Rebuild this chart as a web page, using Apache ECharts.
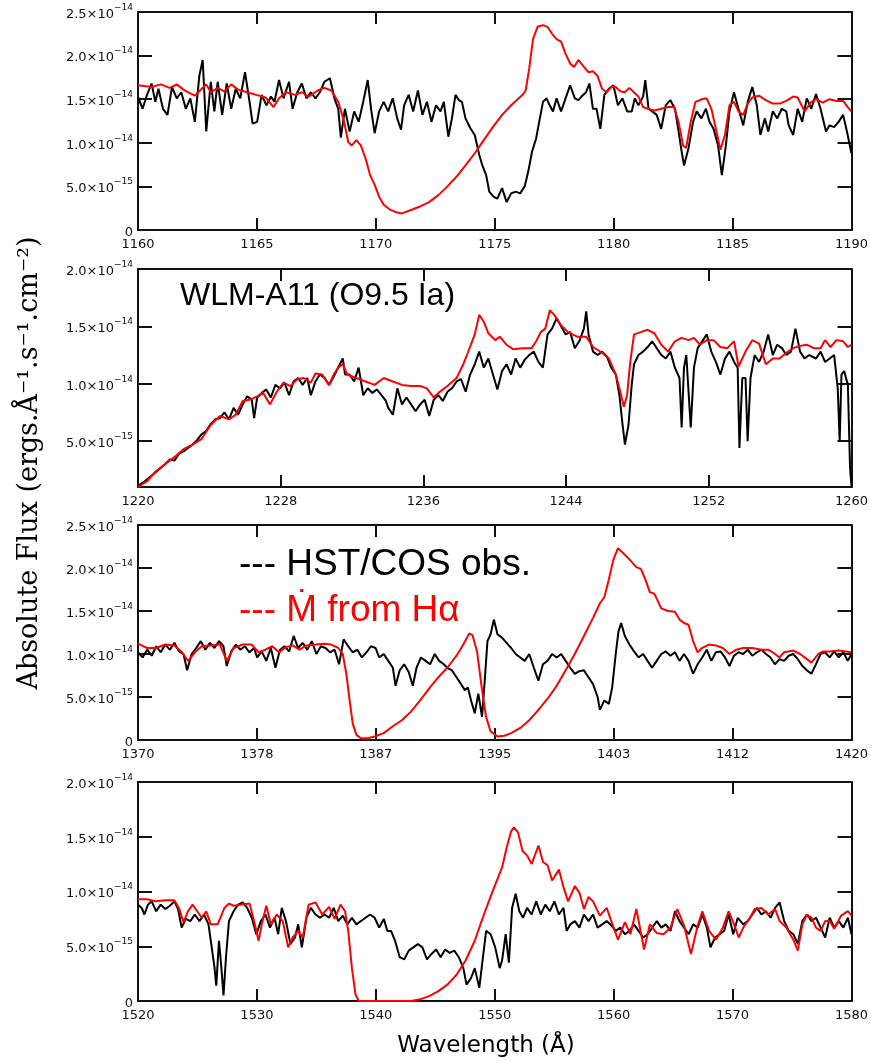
<!DOCTYPE html>
<html>
<head>
<meta charset="utf-8">
<script src="https://cdn.jsdelivr.net/npm/echarts@6/dist/echarts.min.js"></script>
<style>
html,body{margin:0;padding:0;background:#fff;}
#chart{width:871px;height:1061px;}
</style>
</head>
<body>
<div id="chart"></div>
<script>
// Flux values are in units of 1e-14 ergs/s/cm2/A ; wavelengths in Angstrom
const p1Obs = [[1160.00,1.53],[1160.19,1.39],[1160.38,1.55],[1160.57,1.68],[1160.73,1.47],[1160.86,1.62],[1161.05,1.39],[1161.24,1.32],[1161.43,1.64],[1161.63,1.51],[1161.82,1.58],[1162.01,1.39],[1162.20,1.51],[1162.39,1.24],[1162.58,1.77],[1162.72,1.95],[1162.87,1.13],[1163.06,1.70],[1163.21,1.36],[1163.35,1.70],[1163.54,1.32],[1163.73,1.68],[1163.92,1.39],[1164.11,1.62],[1164.30,1.51],[1164.50,1.81],[1164.69,1.47],[1164.82,1.22],[1165.01,1.24],[1165.20,1.55],[1165.40,1.43],[1165.59,1.53],[1165.74,1.47],[1165.93,1.72],[1166.12,1.51],[1166.35,1.70],[1166.50,1.39],[1166.70,1.58],[1166.89,1.68],[1167.08,1.51],[1167.27,1.58],[1167.46,1.51],[1167.65,1.58],[1167.84,1.70],[1168.07,1.74],[1168.26,1.51],[1168.42,1.39],[1168.53,1.06],[1168.70,1.39],[1168.90,1.13],[1169.09,1.36],[1169.28,1.24],[1169.47,1.47],[1169.66,1.72],[1169.80,1.39],[1169.95,1.11],[1170.14,1.36],[1170.33,1.47],[1170.52,1.36],[1170.71,1.51],[1170.90,1.28],[1171.06,1.15],[1171.19,1.43],[1171.38,1.55],[1171.57,1.36],[1171.77,1.60],[1171.96,1.32],[1172.15,1.47],[1172.34,1.24],[1172.53,1.43],[1172.72,1.36],[1172.86,1.47],[1173.05,1.07],[1173.20,1.28],[1173.35,1.55],[1173.49,1.49],[1173.62,1.47],[1173.77,1.28],[1173.97,1.17],[1174.16,1.09],[1174.35,0.86],[1174.48,0.74],[1174.64,0.63],[1174.77,0.44],[1174.96,0.38],[1175.11,0.36],[1175.31,0.48],[1175.50,0.32],[1175.69,0.42],[1175.88,0.44],[1176.07,0.42],[1176.26,0.50],[1176.41,0.67],[1176.57,0.90],[1176.74,1.05],[1176.87,1.24],[1177.03,1.47],[1177.18,1.51],[1177.31,1.43],[1177.45,1.36],[1177.60,1.51],[1177.79,1.36],[1177.98,1.51],[1178.17,1.66],[1178.37,1.51],[1178.52,1.49],[1178.65,1.53],[1178.84,1.58],[1178.98,1.68],[1179.13,1.39],[1179.28,1.39],[1179.44,1.16],[1179.61,1.55],[1179.80,1.62],[1179.99,1.66],[1180.18,1.43],[1180.37,1.51],[1180.57,1.36],[1180.76,1.36],[1180.89,1.51],[1181.04,1.43],[1181.24,1.53],[1181.33,1.72],[1181.47,1.39],[1181.62,1.36],[1181.81,1.32],[1182.00,1.16],[1182.19,1.43],[1182.38,1.49],[1182.58,1.39],[1182.73,1.13],[1182.86,0.90],[1182.96,0.74],[1183.15,0.94],[1183.34,1.24],[1183.49,1.36],[1183.69,1.28],[1183.88,1.39],[1184.03,1.24],[1184.20,1.16],[1184.39,0.97],[1184.55,0.63],[1184.72,0.97],[1184.87,1.36],[1185.06,1.58],[1185.25,1.39],[1185.45,1.20],[1185.64,1.47],[1185.83,1.64],[1186.02,1.43],[1186.17,1.09],[1186.36,1.28],[1186.50,1.13],[1186.69,1.36],[1186.88,1.28],[1187.07,1.39],[1187.26,1.36],[1187.36,1.20],[1187.55,1.09],[1187.74,1.39],[1187.93,1.24],[1188.12,1.51],[1188.31,1.39],[1188.51,1.56],[1188.70,1.39],[1188.93,1.13],[1189.08,1.20],[1189.27,1.18],[1189.46,1.24],[1189.65,1.32],[1189.81,1.13],[1190.00,0.88]];
const p1Mod = [[1160.00,1.66],[1160.57,1.64],[1160.96,1.67],[1161.34,1.63],[1161.63,1.67],[1161.91,1.61],[1162.10,1.58],[1162.39,1.54],[1162.68,1.62],[1162.87,1.67],[1163.06,1.58],[1163.35,1.63],[1163.63,1.59],[1163.92,1.67],[1164.21,1.61],[1164.59,1.58],[1164.97,1.55],[1165.36,1.52],[1165.70,1.41],[1165.93,1.51],[1166.22,1.58],[1166.60,1.55],[1166.89,1.58],[1167.17,1.53],[1167.56,1.60],[1167.84,1.63],[1168.13,1.60],[1168.42,1.47],[1168.65,1.26],[1168.84,1.01],[1168.99,0.97],[1169.18,1.03],[1169.37,0.97],[1169.57,0.82],[1169.76,0.63],[1169.95,0.52],[1170.14,0.38],[1170.33,0.29],[1170.62,0.23],[1170.90,0.20],[1171.10,0.19],[1171.48,0.23],[1171.86,0.27],[1172.24,0.32],[1172.63,0.40],[1173.01,0.50],[1173.39,0.61],[1173.77,0.74],[1174.16,0.88],[1174.54,1.03],[1174.92,1.18],[1175.31,1.32],[1175.69,1.43],[1176.17,1.55],[1176.30,1.60],[1176.45,1.85],[1176.61,2.19],[1176.80,2.33],[1177.03,2.35],[1177.22,2.33],[1177.41,2.25],[1177.60,2.19],[1177.79,2.16],[1177.98,2.02],[1178.17,1.91],[1178.33,1.87],[1178.52,1.95],[1178.75,1.87],[1178.94,1.81],[1179.13,1.82],[1179.32,1.77],[1179.51,1.62],[1179.71,1.58],[1179.90,1.64],[1180.09,1.64],[1180.28,1.59],[1180.47,1.58],[1180.66,1.63],[1180.85,1.58],[1181.04,1.53],[1181.24,1.41],[1181.43,1.39],[1181.71,1.37],[1182.00,1.39],[1182.29,1.41],[1182.54,1.41],[1182.73,1.24],[1182.92,0.97],[1183.05,0.94],[1183.24,1.24],[1183.44,1.47],[1183.72,1.50],[1183.91,1.51],[1184.11,1.39],[1184.30,1.16],[1184.49,0.92],[1184.68,1.09],[1184.87,1.43],[1185.06,1.47],[1185.25,1.36],[1185.45,1.32],[1185.64,1.45],[1185.83,1.52],[1186.11,1.54],[1186.40,1.49],[1186.69,1.45],[1186.98,1.45],[1187.26,1.48],[1187.55,1.53],[1187.74,1.52],[1188.03,1.36],[1188.28,1.46],[1188.51,1.50],[1188.79,1.46],[1189.08,1.50],[1189.37,1.48],[1189.65,1.48],[1189.84,1.41],[1190.00,1.36]];

const p2Obs = [[1220.00,0.11],[1220.38,0.15],[1220.77,0.20],[1221.15,0.25],[1221.53,0.30],[1221.79,0.34],[1222.04,0.33],[1222.30,0.39],[1222.55,0.41],[1222.81,0.44],[1223.06,0.47],[1223.32,0.51],[1223.57,0.56],[1223.83,0.59],[1224.08,0.65],[1224.34,0.69],[1224.59,0.70],[1224.85,0.75],[1225.10,0.69],[1225.36,0.79],[1225.61,0.73],[1225.87,0.82],[1226.12,0.89],[1226.38,0.86],[1226.51,0.70],[1226.68,0.88],[1226.94,0.92],[1227.19,0.95],[1227.45,0.88],[1227.70,0.99],[1227.96,0.96],[1228.21,1.01],[1228.47,0.90],[1228.72,1.02],[1228.98,1.05],[1229.23,0.99],[1229.49,1.05],[1229.69,0.90],[1229.95,1.02],[1230.20,1.08],[1230.46,1.05],[1230.71,0.99],[1230.97,1.06],[1231.22,1.14],[1231.48,1.22],[1231.61,1.08],[1231.86,1.08],[1232.12,1.02],[1232.37,1.14],[1232.63,0.90],[1232.88,0.96],[1233.14,0.92],[1233.39,0.95],[1233.65,0.90],[1233.90,0.85],[1234.03,0.79],[1234.29,0.73],[1234.54,0.96],[1234.80,0.82],[1235.05,0.88],[1235.31,0.82],[1235.56,0.76],[1235.82,0.82],[1236.07,0.86],[1236.33,0.72],[1236.58,0.86],[1236.84,0.90],[1237.09,0.85],[1237.35,0.93],[1237.60,0.96],[1237.86,1.02],[1238.11,1.04],[1238.37,0.93],[1238.62,1.08],[1238.88,1.17],[1239.13,1.28],[1239.39,1.14],[1239.64,1.22],[1239.90,1.08],[1240.15,0.95],[1240.41,1.11],[1240.66,1.17],[1240.92,1.08],[1241.17,1.22],[1241.43,1.14],[1241.68,1.21],[1241.94,1.25],[1242.19,1.28],[1242.45,1.19],[1242.70,1.14],[1242.96,1.43],[1243.21,1.48],[1243.47,1.57],[1243.72,1.50],[1243.98,1.43],[1244.23,1.45],[1244.49,1.31],[1244.74,1.37],[1245.00,1.48],[1245.13,1.63],[1245.26,1.43],[1245.51,1.28],[1245.77,1.25],[1246.02,1.28],[1246.28,1.24],[1246.53,1.14],[1246.79,1.08],[1246.99,0.90],[1247.17,0.64],[1247.30,0.47],[1247.50,0.64],[1247.68,0.99],[1247.81,1.17],[1248.06,1.25],[1248.32,1.28],[1248.57,1.32],[1248.83,1.37],[1249.08,1.31],[1249.34,1.25],[1249.59,1.22],[1249.85,1.28],[1250.10,1.14],[1250.36,1.05],[1250.48,0.62],[1250.61,1.14],[1250.74,1.25],[1250.99,0.62],[1251.17,1.14],[1251.38,1.31],[1251.63,1.37],[1251.89,1.43],[1252.14,1.28],[1252.40,1.19],[1252.65,1.08],[1252.91,1.22],[1253.16,1.28],[1253.42,1.19],[1253.62,1.14],[1253.72,0.44],[1253.88,1.05],[1254.06,1.05],[1254.18,0.50],[1254.34,1.05],[1254.57,1.25],[1254.82,1.19],[1255.08,1.28],[1255.33,1.43],[1255.59,1.25],[1255.84,1.34],[1256.10,1.31],[1256.35,1.25],[1256.61,1.28],[1256.86,1.48],[1257.12,1.28],[1257.37,1.22],[1257.63,1.25],[1258.01,1.22],[1258.27,1.28],[1258.52,1.19],[1258.78,1.22],[1259.03,1.25],[1259.23,0.96],[1259.34,0.50],[1259.44,1.08],[1259.59,1.11],[1259.80,0.99],[1259.92,0.27],[1260.00,0.11]];
const p2Mod = [[1220.00,0.10],[1220.51,0.15],[1221.02,0.24],[1221.53,0.30],[1222.04,0.36],[1222.55,0.43],[1223.06,0.47],[1223.57,0.52],[1224.08,0.64],[1224.59,0.72],[1225.10,0.69],[1225.48,0.73],[1225.87,0.85],[1226.25,0.86],[1226.68,0.89],[1227.02,0.92],[1227.40,0.82],[1227.78,0.93],[1228.16,1.01],[1228.55,0.98],[1228.93,1.04],[1229.31,1.05],[1229.69,1.01],[1229.95,1.09],[1230.33,1.08],[1230.71,0.99],[1230.97,1.08],[1231.22,1.14],[1231.48,1.17],[1231.73,1.08],[1232.24,1.05],[1232.76,1.02],[1233.27,0.99],[1233.78,1.05],[1234.29,1.02],[1234.80,0.99],[1235.31,0.98],[1235.82,0.98],[1236.20,0.96],[1236.58,0.88],[1236.84,0.92],[1237.35,0.98],[1237.86,1.05],[1238.24,1.17],[1238.49,1.27],[1238.88,1.43],[1239.13,1.60],[1239.39,1.54],[1239.64,1.44],[1240.03,1.38],[1240.28,1.41],[1240.66,1.34],[1241.05,1.30],[1241.56,1.31],[1242.07,1.31],[1242.32,1.37],[1242.58,1.45],[1242.83,1.48],[1243.09,1.64],[1243.34,1.60],[1243.72,1.51],[1244.11,1.45],[1244.62,1.41],[1245.13,1.41],[1245.51,1.32],[1246.02,1.27],[1246.40,1.22],[1246.79,1.08],[1247.04,0.93],[1247.24,0.80],[1247.42,0.90],[1247.60,1.19],[1247.81,1.43],[1248.19,1.45],[1248.57,1.47],[1248.95,1.44],[1249.34,1.34],[1249.72,1.28],[1250.10,1.37],[1250.48,1.40],[1250.87,1.38],[1251.17,1.40],[1251.51,1.34],[1251.89,1.38],[1252.27,1.38],[1252.65,1.32],[1253.04,1.31],[1253.42,1.37],[1253.67,1.15],[1254.06,1.28],[1254.44,1.38],[1254.82,1.35],[1255.20,1.17],[1255.59,1.22],[1255.97,1.22],[1256.35,1.27],[1256.73,1.31],[1257.12,1.33],[1257.50,1.34],[1257.88,1.31],[1258.27,1.31],[1258.52,1.38],[1258.83,1.32],[1259.16,1.38],[1259.54,1.37],[1259.80,1.32],[1260.00,1.34]];

const p3Obs = [[1370.00,1.02],[1370.32,0.96],[1370.64,1.05],[1370.96,0.98],[1371.28,1.09],[1371.59,1.02],[1371.91,1.11],[1372.23,1.05],[1372.55,1.13],[1372.87,1.03],[1373.19,1.00],[1373.44,0.81],[1373.76,1.00],[1374.08,1.07],[1374.40,1.15],[1374.72,1.05],[1375.04,1.13],[1375.36,1.07],[1375.68,1.15],[1375.99,1.09],[1376.22,0.86],[1376.54,1.03],[1376.86,1.11],[1377.17,1.05],[1377.49,1.09],[1377.81,1.02],[1378.13,1.07],[1378.35,0.96],[1378.67,1.03],[1378.99,0.92],[1379.31,1.07],[1379.63,0.84],[1379.95,1.05],[1380.27,1.09],[1380.59,1.03],[1380.91,1.21],[1381.22,1.07],[1381.54,1.13],[1381.86,1.05],[1382.18,1.15],[1382.50,1.00],[1382.82,1.09],[1383.14,1.07],[1383.46,1.02],[1383.78,1.05],[1384.09,0.88],[1384.41,1.17],[1384.73,1.09],[1385.05,1.02],[1385.37,1.05],[1385.69,0.96],[1386.01,1.02],[1386.33,1.09],[1386.65,1.07],[1386.90,0.96],[1387.22,1.00],[1387.54,0.92],[1387.86,0.84],[1388.05,0.63],[1388.34,0.81],[1388.65,0.88],[1388.97,0.79],[1389.26,0.63],[1389.52,0.84],[1389.83,0.96],[1390.15,0.92],[1390.47,0.88],[1390.79,1.00],[1391.11,0.92],[1391.43,0.88],[1391.68,0.84],[1392.00,0.81],[1392.32,0.73],[1392.64,0.65],[1392.90,0.58],[1393.12,0.61],[1393.34,0.46],[1393.60,0.31],[1393.85,0.54],[1394.11,0.27],[1394.30,0.69],[1394.49,1.15],[1394.71,1.23],[1394.94,1.40],[1395.19,1.23],[1395.51,1.19],[1395.83,1.13],[1396.15,1.07],[1396.47,1.00],[1396.79,0.96],[1397.10,0.92],[1397.42,1.00],[1397.74,0.84],[1398.06,0.69],[1398.38,0.88],[1398.70,0.92],[1399.02,1.00],[1399.34,0.96],[1399.66,1.00],[1399.97,0.92],[1400.29,0.84],[1400.61,0.77],[1400.93,0.80],[1401.25,0.81],[1401.57,0.73],[1401.89,0.65],[1402.21,0.50],[1402.37,0.35],[1402.68,0.46],[1403.00,0.42],[1403.23,0.61],[1403.48,1.00],[1403.67,1.26],[1403.86,1.36],[1404.12,1.21],[1404.44,1.11],[1404.76,1.03],[1405.08,0.96],[1405.40,1.00],[1405.71,0.92],[1406.03,0.84],[1406.35,0.92],[1406.67,1.00],[1406.99,1.03],[1407.31,0.98],[1407.63,1.02],[1407.95,0.92],[1408.27,1.00],[1408.58,0.92],[1408.90,0.77],[1409.22,0.88],[1409.54,0.96],[1409.86,1.05],[1410.18,0.92],[1410.50,1.02],[1410.82,1.03],[1411.14,0.96],[1411.45,0.86],[1411.77,0.98],[1412.09,1.02],[1412.41,1.00],[1412.73,1.05],[1413.05,0.98],[1413.37,1.02],[1413.69,1.05],[1414.01,1.00],[1414.32,0.96],[1414.64,0.88],[1414.96,0.94],[1415.28,0.92],[1415.60,0.98],[1415.92,1.00],[1416.24,0.94],[1416.56,0.86],[1416.88,0.81],[1417.19,0.77],[1417.51,0.88],[1417.83,1.00],[1418.15,1.02],[1418.47,0.96],[1418.79,1.03],[1419.11,0.96],[1419.43,1.02],[1419.74,0.92],[1420.00,1.00]];
const p3Mod = [[1370.00,1.12],[1370.64,1.07],[1371.28,1.07],[1371.91,1.11],[1372.55,1.10],[1373.03,1.03],[1373.51,0.92],[1373.99,1.02],[1374.46,1.09],[1375.10,1.10],[1375.74,1.11],[1376.22,0.92],[1376.70,1.07],[1377.33,1.11],[1377.97,1.11],[1378.45,1.02],[1378.93,1.05],[1379.41,1.09],[1379.89,1.02],[1380.36,1.08],[1380.84,1.10],[1381.32,1.05],[1381.80,1.10],[1382.44,1.11],[1383.07,1.12],[1383.55,1.11],[1384.03,1.07],[1384.35,1.00],[1384.60,0.77],[1384.83,0.46],[1385.05,0.19],[1385.31,0.06],[1385.63,0.02],[1386.10,0.02],[1386.58,0.04],[1387.22,0.08],[1387.86,0.16],[1388.49,0.23],[1389.13,0.33],[1389.77,0.46],[1390.41,0.60],[1391.05,0.73],[1391.68,0.84],[1392.32,0.98],[1392.80,1.11],[1393.21,1.24],[1393.44,1.22],[1393.76,1.03],[1394.08,0.62],[1394.39,0.27],[1394.71,0.10],[1395.19,0.04],[1395.67,0.05],[1396.15,0.08],[1396.79,0.14],[1397.42,0.23],[1398.06,0.35],[1398.70,0.48],[1399.34,0.63],[1399.97,0.81],[1400.61,1.00],[1401.25,1.21],[1401.89,1.42],[1402.37,1.59],[1402.68,1.66],[1403.00,1.87],[1403.32,2.10],[1403.64,2.23],[1403.96,2.18],[1404.44,2.10],[1404.92,2.01],[1405.24,1.99],[1405.55,1.87],[1405.87,1.72],[1406.19,1.70],[1406.67,1.53],[1407.15,1.50],[1407.63,1.49],[1407.95,1.40],[1408.27,1.36],[1408.58,1.34],[1408.90,1.15],[1409.22,1.02],[1409.54,1.07],[1410.02,1.11],[1410.50,1.10],[1410.98,1.07],[1411.45,1.00],[1411.93,1.05],[1412.41,1.07],[1413.05,1.07],[1413.69,1.05],[1414.16,1.05],[1414.48,1.02],[1414.96,0.96],[1415.28,1.02],[1415.92,1.04],[1416.40,1.00],[1416.88,0.94],[1417.19,0.90],[1417.67,1.00],[1417.99,1.03],[1418.47,1.03],[1419.11,1.04],[1419.59,1.03],[1420.00,1.02]];

const p4Obs = [[1520.00,0.88],[1520.31,0.85],[1520.54,0.79],[1520.84,0.88],[1521.15,0.91],[1521.53,0.82],[1521.91,0.88],[1522.30,0.84],[1522.68,0.87],[1523.06,0.91],[1523.37,0.84],[1523.67,0.67],[1524.02,0.75],[1524.40,0.73],[1524.78,0.79],[1525.17,0.73],[1525.55,0.79],[1525.93,0.70],[1526.20,0.49],[1526.43,0.31],[1526.58,0.14],[1526.81,0.55],[1527.00,0.32],[1527.19,0.05],[1527.42,0.43],[1527.65,0.73],[1528.04,0.82],[1528.42,0.88],[1528.80,0.90],[1529.18,0.85],[1529.57,0.76],[1529.95,0.61],[1530.33,0.73],[1530.72,0.79],[1531.10,0.67],[1531.48,0.76],[1531.79,0.61],[1532.09,0.85],[1532.44,0.73],[1532.82,0.52],[1533.20,0.58],[1533.47,0.70],[1533.78,0.49],[1534.16,0.76],[1534.54,0.85],[1534.93,0.79],[1535.31,0.76],[1535.69,0.79],[1536.07,0.76],[1536.46,0.85],[1536.84,0.73],[1537.22,0.78],[1537.60,0.70],[1537.99,0.76],[1538.37,0.70],[1538.75,0.73],[1539.13,0.76],[1539.52,0.79],[1539.90,0.76],[1540.28,0.67],[1540.67,0.75],[1540.97,0.64],[1541.28,0.64],[1541.62,0.55],[1542.01,0.40],[1542.39,0.38],[1542.77,0.46],[1543.15,0.49],[1543.54,0.52],[1543.92,0.49],[1544.30,0.38],[1544.68,0.43],[1545.07,0.47],[1545.45,0.40],[1545.83,0.47],[1546.21,0.44],[1546.60,0.46],[1546.98,0.40],[1547.36,0.30],[1547.63,0.15],[1548.01,0.21],[1548.32,0.30],[1548.70,0.12],[1549.01,0.40],[1549.28,0.64],[1549.66,0.61],[1550.04,0.49],[1550.42,0.30],[1550.62,0.37],[1550.92,0.61],[1551.19,0.35],[1551.46,0.85],[1551.76,0.98],[1552.07,0.82],[1552.38,0.76],[1552.72,0.85],[1553.10,0.79],[1553.49,0.91],[1553.87,0.79],[1554.25,0.88],[1554.63,0.82],[1555.02,0.91],[1555.40,0.79],[1555.78,0.85],[1556.05,0.64],[1556.36,0.70],[1556.74,0.73],[1557.12,0.67],[1557.50,0.79],[1557.89,0.73],[1558.27,0.79],[1558.65,0.67],[1559.04,0.70],[1559.42,0.73],[1559.80,0.69],[1560.18,0.64],[1560.57,0.67],[1560.95,0.61],[1561.33,0.64],[1561.71,0.70],[1562.10,0.64],[1562.48,0.58],[1562.86,0.61],[1563.25,0.67],[1563.63,0.73],[1564.01,0.67],[1564.39,0.70],[1564.78,0.64],[1565.16,0.82],[1565.54,0.73],[1565.92,0.67],[1566.31,0.61],[1566.69,0.70],[1567.07,0.67],[1567.46,0.79],[1567.84,0.67],[1568.14,0.49],[1568.53,0.58],[1568.91,0.61],[1569.29,0.64],[1569.67,0.79],[1570.06,0.61],[1570.44,0.76],[1570.90,0.70],[1571.28,0.73],[1571.66,0.79],[1572.05,0.85],[1572.43,0.79],[1572.81,0.82],[1573.20,0.76],[1573.58,0.85],[1573.96,0.90],[1574.34,0.73],[1574.73,0.64],[1575.11,0.61],[1575.49,0.52],[1575.87,0.73],[1576.26,0.79],[1576.64,0.73],[1577.02,0.76],[1577.41,0.67],[1577.79,0.58],[1578.17,0.76],[1578.55,0.67],[1578.94,0.73],[1579.32,0.67],[1579.70,0.76],[1580.00,0.61]];
const p4Mod = [[1520.00,0.93],[1520.77,0.93],[1521.53,0.91],[1522.30,0.92],[1523.06,0.92],[1523.44,0.85],[1523.83,0.72],[1524.21,0.82],[1524.59,0.88],[1524.98,0.82],[1525.36,0.76],[1525.74,0.82],[1526.12,0.70],[1526.70,0.70],[1527.27,0.85],[1527.65,0.89],[1528.04,0.87],[1528.61,0.88],[1529.38,0.89],[1529.76,0.73],[1530.14,0.55],[1530.41,0.70],[1530.79,0.87],[1531.17,0.70],[1531.67,0.79],[1532.17,0.73],[1532.63,0.49],[1533.01,0.58],[1533.47,0.64],[1533.85,0.58],[1534.35,0.88],[1534.93,0.90],[1535.50,0.79],[1536.07,0.86],[1536.53,0.75],[1537.03,0.88],[1537.41,0.82],[1537.68,0.64],[1537.99,0.30],[1538.29,0.06],[1538.56,0.00],[1539.13,0.00],[1541.05,0.00],[1542.96,0.00],[1543.73,0.015],[1544.49,0.045],[1545.26,0.09],[1546.02,0.15],[1546.79,0.24],[1547.55,0.37],[1548.32,0.55],[1549.09,0.79],[1549.85,1.01],[1550.62,1.22],[1551.00,1.40],[1551.38,1.55],[1551.61,1.585],[1551.96,1.54],[1552.34,1.37],[1552.72,1.33],[1553.10,1.25],[1553.68,1.42],[1554.06,1.27],[1554.44,1.24],[1554.83,1.10],[1555.40,1.20],[1555.78,1.04],[1556.17,0.91],[1556.74,1.05],[1557.12,0.99],[1557.50,0.84],[1557.89,0.95],[1558.27,0.91],[1558.84,0.78],[1559.42,0.85],[1559.80,0.73],[1560.37,0.56],[1560.95,0.72],[1561.41,0.61],[1561.91,0.84],[1562.56,0.47],[1563.05,0.70],[1563.63,0.62],[1564.20,0.61],[1564.78,0.67],[1565.35,0.84],[1565.92,0.69],[1566.50,0.43],[1567.07,0.69],[1567.46,0.82],[1568.03,0.64],[1568.60,0.56],[1569.18,0.67],[1569.67,0.82],[1570.13,0.70],[1570.52,0.58],[1570.90,0.67],[1571.47,0.76],[1571.86,0.84],[1572.43,0.85],[1573.00,0.79],[1573.58,0.84],[1573.96,0.73],[1574.53,0.67],[1575.11,0.56],[1575.49,0.46],[1575.87,0.70],[1576.26,0.79],[1576.64,0.76],[1577.02,0.67],[1577.41,0.64],[1577.79,0.73],[1578.17,0.73],[1578.55,0.66],[1579.13,0.78],[1579.70,0.82],[1580.00,0.78]];

// axis ranges / tick spacing per panel
const xRanges = [[1160,1190,5],[1220,1260,8],[1370,1420,50/6],[1520,1580,10]];
const yRanges = [[0,2.5],[0.1,2.0],[0,2.5],[0,2.0]];
const yTicks = [[0,0.5,1.0,1.5,2.0,2.5],[0.5,1.0,1.5,2.0],[0,0.5,1.0,1.5,2.0,2.5],[0,0.5,1.0,1.5,2.0]];

const panels = [[p1Obs,p1Mod],[p2Obs,p2Mod],[p3Obs,p3Mod],[p4Obs,p4Mod]];
const gridTops = [12,269,525,782];
const gridHeights = [218,218,215,219];

const LBL_FONT = 'DejaVu Sans';
function sciLabel(v){
  if (Math.abs(v) < 1e-9) return '{m|0}';
  const val = v*1e-14;
  const e = Math.floor(Math.log10(val) + 1e-9);
  const m = val/Math.pow(10,e);
  return '{m|' + m.toFixed(1) + '×10}{s|−' + (-e) + '}';
}
const lineStyleAxis = {color:'#111', width:2};
const grids=[], xAxes=[], yAxes=[], series=[];
for (let i=0;i<4;i++){
  grids.push({left:138, right:19, top:gridTops[i], height:gridHeights[i], containLabel:false});
  const [xmin,xmax,xint] = xRanges[i];
  const xbase = {type:'value', gridIndex:i, min:xmin, max:xmax, interval:xint,
    axisLine:{show:true, onZero:false, lineStyle:lineStyleAxis},
    axisTick:{show:true, inside:true, length:12, lineStyle:{color:'#111', width:2}},
    splitLine:{show:false}};
  xAxes.push(Object.assign({}, xbase, {position:'bottom',
    axisLabel:{show:true, margin:8, fontSize:13, fontFamily:LBL_FONT, color:'#111',
      formatter:(v)=>String(Math.round(v))}}));
  xAxes.push(Object.assign({}, xbase, {position:'top', axisLabel:{show:false}}));
  const [ymin,ymax] = yRanges[i];
  const ybase = {type:'value', gridIndex:i, min:ymin, max:ymax,
    axisLine:{show:true, onZero:false, lineStyle:lineStyleAxis},
    axisTick:{show:true, inside:true, length:14, lineStyle:{color:'#111', width:2}, customValues:yTicks[i]},
    splitLine:{show:false}};
  yAxes.push(Object.assign({}, ybase, {position:'left',
    axisLabel:{show:true, margin:5, customValues:yTicks[i], formatter:sciLabel,
      rich:{m:{fontSize:13, fontFamily:LBL_FONT, color:'#111', lineHeight:18, verticalAlign:'bottom'},
            s:{fontSize:9, fontFamily:LBL_FONT, color:'#111', lineHeight:10, verticalAlign:'top'}}}}));
  yAxes.push(Object.assign({}, ybase, {position:'right', axisLabel:{show:false}}));
  series.push({type:'line', xAxisIndex:2*i, yAxisIndex:2*i, data:panels[i][0], symbol:'none', showSymbol:false,
    lineStyle:{color:'#000', width:2}, z:2, animation:false});
  series.push({type:'line', xAxisIndex:2*i, yAxisIndex:2*i, data:panels[i][1], symbol:'none', showSymbol:false,
    lineStyle:{color:'#ff0000', width:2}, z:3, animation:false});
}

const chart = echarts.init(document.getElementById('chart'), null, {renderer:'canvas'});
chart.setOption({
  backgroundColor:'#ffffff',
  animation:false,
  grid:grids, xAxis:xAxes, yAxis:yAxes, series:series,
  graphic:[
    {type:'text', x:30, y:463, rotation:Math.PI/2, z:10,
      style:{text:'Absolute Flux (ergs.Å⁻¹.s⁻¹.cm⁻²)', font:'27px "DejaVu Serif"', fill:'#000', align:'center', verticalAlign:'middle'}},
    {type:'text', x:486, y:1046, z:10,
      style:{text:'Wavelength (Å)', font:'23px "DejaVu Sans"', fill:'#000', align:'center', verticalAlign:'middle'}},
    {type:'text', x:180, y:296, z:10,
      style:{text:'WLM-A11 (O9.5 Ia)', font:'32px "Liberation Sans"', fill:'#000', align:'left', verticalAlign:'middle'}},
    {type:'text', x:239, y:565, z:10,
      style:{text:'--- HST/COS obs.', font:'37px "Liberation Sans"', fill:'#000', align:'left', verticalAlign:'middle'}},
    {type:'text', x:239, y:611, z:10,
      style:{text:'--- Ṁ from Hα', font:'37px "Liberation Sans"', fill:'#ff0000', align:'left', verticalAlign:'middle'}}
  ]
});
</script>
</body>
</html>
